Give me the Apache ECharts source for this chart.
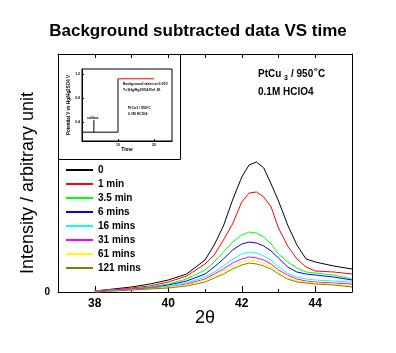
<!DOCTYPE html>
<html>
<head>
<meta charset="utf-8">
<script src="https://cdn.jsdelivr.net/npm/echarts@6/dist/echarts.min.js"></script>
<style>
  html, body { margin: 0; padding: 0; background: #fff; }
  #chart { width: 396px; height: 353px; }
</style>
</head>
<body>
<div id="chart"></div>
<script>
// 2theta positions of the sampled points
const twoTheta = [38, 38.5, 39, 39.5, 40, 40.5, 41, 41.25, 41.5, 41.75, 42, 42.2, 42.4, 42.6, 42.8, 43, 43.25, 43.5, 43.75, 44, 44.5, 45];

// intensity (arbitrary unit) for each time step
const t0 = [1, 3, 5, 8, 12, 18, 32, 47, 66, 92, 115, 127, 130, 124, 108, 91, 67, 47, 33, 30, 26, 23];
const t1min = [1, 2, 4, 6, 10, 16, 28, 37, 52, 68, 90, 99, 100, 95, 85, 64, 46, 33, 25, 21, 20, 18];
const t3_5min = [1, 2, 3, 5, 8, 13, 22, 30, 40, 50, 57, 60, 59, 55, 48, 38, 30, 24, 20, 19, 17, 13];
const t6mins = [1, 2, 3, 4, 7, 11, 18, 25, 33, 42, 48, 50, 49, 46, 41, 34, 25, 20, 18, 17, 15, 12];
const t16mins = [1, 2, 3, 4, 6, 9, 15, 20, 26, 33, 38, 40, 39, 36, 32, 25, 19, 15, 13, 12, 11, 10];
const t31mins = [1, 2, 3, 4, 5, 8, 13, 18, 23, 29, 33, 35, 34, 32, 28, 22, 17, 13, 11, 10, 9, 8];
const t61mins = [0, 1, 2, 3, 5, 7, 12, 16, 21, 26, 30, 32, 31, 29, 25, 20, 15, 11, 10, 9, 8, 6];
const t121mins = [0, 1, 2, 3, 4, 6, 10, 14, 18, 23, 27, 29, 28, 26, 23, 18, 13, 10, 9, 8, 7, 5];

const seriesNames = ["0", "1 min", "3.5 min", "6 mins", "16 mins", "31 mins", "61 mins", "121 mins"];
const seriesColors = ["#000000", "#ff0000", "#00ff00", "#0000ff", "#00ffff", "#ff00ff", "#ffff00", "#808000"];
const seriesData = [t0, t1min, t3_5min, t6mins, t16mins, t31mins, t61mins, t121mins];

const xTicks = [38, 40, 42, 44];
const yTicks = [0];

// inset: potential step vs time
const insetLow = [[0, 0.23], [10, 0.23], [10, 1.12]];
const insetHigh = [[10, 1.12], [20, 1.12]];
const insetMarker = [[3.3, 0.23], [3.3, 0.43]];
const insetXTicks = [10, 20];
const insetYTicks = [0.4, 0.8, 1.2];

const myChart = echarts.init(document.getElementById("chart"));

const font = "Arial";

let series = seriesData.map((vals, i) => ({
  name: seriesNames[i],
  type: "line",
  data: vals.map((v, k) => [twoTheta[k], v]),
  symbol: "none",
  lineStyle: { width: 1, color: seriesColors[i] },
  itemStyle: { color: seriesColors[i] },
  silent: true,
}));

series.push(
  {
    type: "line",
    xAxisIndex: 3,
    yAxisIndex: 2,
    data: insetLow,
    symbol: "none",
    lineStyle: { width: 1, color: "#000" },
  },
  {
    type: "line",
    xAxisIndex: 3,
    yAxisIndex: 2,
    data: insetHigh,
    symbol: "none",
    lineStyle: { width: 1, color: "#ff0000" },
  },
  {
    type: "line",
    xAxisIndex: 3,
    yAxisIndex: 2,
    data: insetMarker,
    symbol: "none",
    lineStyle: { width: 1, color: "#000" },
  }
);

const txt = (x, y, text, size, extra = {}) => ({
  type: "text",
  x,
  y,
  style: {
    text,
    font: `bold ${size}px Arial`,
    fill: "#000",
    textVerticalAlign: "middle",
    ...extra,
  },
});

const option = {
  animation: false,
  title: {
    text: "Background subtracted data VS time",
    left: "center",
    top: 23,
    padding: 0,
    textStyle: { fontFamily: font, fontSize: 17, fontWeight: "bold", color: "#000" },
  },
  legend: {
    data: seriesNames,
    orient: "vertical",
    left: 65,
    top: 165,
    padding: 0,
    itemWidth: 27,
    itemHeight: 10,
    itemGap: 4,
    itemStyle: { opacity: 0 },
    textStyle: { fontFamily: font, fontSize: 10, fontWeight: "bold", color: "#000", lineHeight: 10 },
  },
  grid: [
    { left: 58, right: 44, top: 54, bottom: 61 },
    {
      left: 82,
      top: 69,
      width: 90,
      height: 72,
      show: true,
      borderColor: "#000",
      borderWidth: 1,
      backgroundColor: "transparent",
    },
  ],
  xAxis: [
    {
      type: "value",
      gridIndex: 0,
      position: "bottom",
      min: 37,
      max: 45,
      interval: 1,
      name: "2θ",
      nameLocation: "middle",
      nameGap: 17,
      nameMoveOverlap: false,
      nameTextStyle: { fontFamily: font, fontSize: 18, color: "#000" },
      axisLine: { lineStyle: { color: "#000", width: 1 } },
      axisTick: { inside: true, length: 3, lineStyle: { color: "#000" } },
      axisLabel: {
        customValues: xTicks,
        color: "#000",
        fontFamily: font,
        fontSize: 12,
        fontWeight: "bold",
        margin: 6,
      },
      splitLine: { show: false },
    },
    {
      type: "value",
      gridIndex: 0,
      position: "bottom",
      min: 37,
      max: 45,
      axisLine: { show: false },
      axisTick: { inside: true, length: 6, customValues: xTicks, lineStyle: { color: "#000" } },
      axisLabel: { show: false },
      splitLine: { show: false },
    },
    {
      type: "value",
      gridIndex: 0,
      position: "top",
      min: 37,
      max: 45,
      interval: 1,
      axisLine: { lineStyle: { color: "#000", width: 1 } },
      axisTick: { inside: true, length: 4, lineStyle: { color: "#000" } },
      axisLabel: { show: false },
      splitLine: { show: false },
    },
    {
      type: "value",
      gridIndex: 1,
      min: 0,
      max: 25,
      name: "Time",
      nameLocation: "middle",
      nameGap: 6,
      nameMoveOverlap: false,
      nameTextStyle: { fontFamily: font, fontSize: 5, fontWeight: "bold", color: "#000" },
      axisLine: { lineStyle: { color: "#000", width: 1 } },
      axisTick: { inside: true, length: 2, customValues: insetXTicks, lineStyle: { color: "#000" } },
      axisLabel: { customValues: insetXTicks, fontSize: 3.5, fontWeight: "bold", color: "#000", margin: 2 },
      splitLine: { show: false },
    },
  ],
  yAxis: [
    {
      type: "value",
      gridIndex: 0,
      position: "left",
      min: 0,
      max: 238,
      axisLine: { show: true, lineStyle: { color: "#000", width: 1 } },
      axisTick: { show: false },
      axisLabel: {
        customValues: yTicks,
        color: "#000",
        fontFamily: font,
        fontSize: 10,
        fontWeight: "bold",
        margin: 8,
      },
      splitLine: { show: false },
    },
    {
      type: "value",
      gridIndex: 0,
      position: "right",
      min: 0,
      max: 238,
      axisLine: { show: true, lineStyle: { color: "#000", width: 1 } },
      axisTick: { show: false },
      axisLabel: { show: false },
      splitLine: { show: false },
    },
    {
      type: "value",
      gridIndex: 1,
      min: 0.083,
      max: 1.283,
      name: "Potential V vs Hg/Hg2SO4 V",
      nameLocation: "middle",
      nameGap: 11,
      nameMoveOverlap: false,
      nameTextStyle: { fontFamily: font, fontSize: 4.5, fontWeight: "bold", color: "#000" },
      axisLine: { lineStyle: { color: "#000", width: 1 } },
      axisTick: { inside: true, length: 2, customValues: insetYTicks, lineStyle: { color: "#000" } },
      axisLabel: {
        customValues: insetYTicks,
        formatter: (v) => v.toFixed(1),
        fontSize: 3.5,
        fontWeight: "bold",
        color: "#000",
        margin: 2,
      },
      splitLine: { show: false },
    },
  ],
  graphic: [
    {
      type: "rect",
      shape: { x: 58.5, y: 54.5, width: 122, height: 105 },
      style: { fill: "none", stroke: "#000", lineWidth: 1 },
    },
    // y axis title
    {
      type: "text",
      x: 28,
      y: 183,
      rotation: Math.PI / 2,
      style: {
        text: "Intensity / arbitrary unit",
        font: "18px Arial",
        fill: "#000",
        textAlign: "center",
        textVerticalAlign: "middle",
      },
    },
    txt(258, 74, "PtCu", 10),
    txt(284, 78, "3", 7),
    txt(291, 74, "/ 950", 10),
    txt(314, 69, "o", 6),
    txt(318, 74, "C", 10),
    txt(258, 92, "0.1M HClO4", 10),
    // inset notes
    txt(123, 84, "Background taken at 0.05V", 3.5),
    txt(123, 90, "T=1Hg/Hg2SO4 Ref. El.", 3.5),
    txt(128, 108, "PtCu3 / 950°C", 3.5),
    txt(128, 114, "0.1M HClO4", 3.5),
    txt(87, 118, "calibra.", 3.5),
  ],
  series,
};

myChart.setOption(option);
</script>
</body>
</html>
